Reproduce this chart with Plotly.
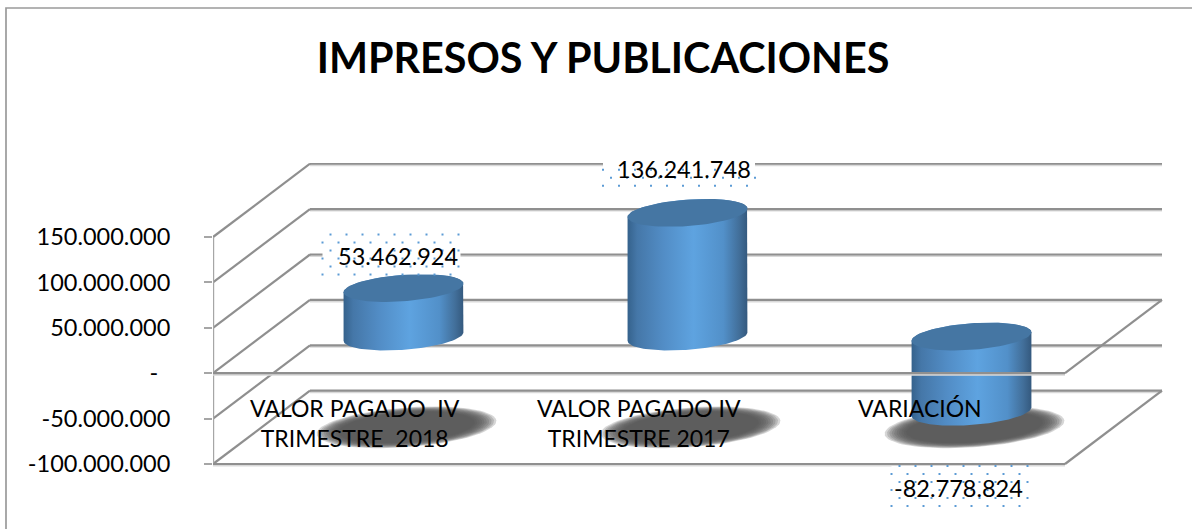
# -*- coding: utf-8 -*-
import numpy as np
import plotly.graph_objects as go

# | data section |
categories = [
    "VALOR PAGADO\u00a0\u00a0IV<br>TRIMESTRE\u00a0\u00a02018",
    "VALOR PAGADO IV<br>TRIMESTRE 2017",
    "VARIACIÓN",
]
values = [53462924, 136241748, -82778824]
tick_values = [150000000, 100000000, 50000000, 0, -50000000, -100000000]
tick_labels = ["150.000.000", "100.000.000", "50.000.000", "-\u00a0\u00a0", "-50.000.000", "-100.000.000"]
title = "IMPRESOS Y PUBLICACIONES"

# | style section |
FONT = "Lato, Carlito, Calibri, sans-serif"
GRID = "#8f8f8f"
GRID_SOFT = "#d9d9d9"
DOT = "#5b9bd5"

# one category is 284 px wide, 50 million is 45.4 px high
PX_X = 1 / 284
PX_Y = 50000000 / 45.4
DEPTH_X = 97 * PX_X
DEPTH_Y = 73.3 * PX_Y
Y_MIN = tick_values[-1]
AXIS_LOW = Y_MIN - 46 * PX_Y  # room under the floor for the last data label
Y_MAX = AXIS_LOW + 347 * PX_Y
X_MAX = 951 * PX_X

# cylinder cross section
RADIUS_X = 57 * PX_X
RADIUS_DEPTH = 0.19

# label box: offset from the end of the cylinder (px), size (px), dot phase, text shift (px)
LABEL_OFFSET = [(-12, -33.5), (-8.5, -43), (-12, 74.3)]
LABEL_BOX = [(138, 40), (152, 32), (136, 40)]
LABEL_PHASE = [1, 0, 1]
TEXT_SHIFT = [(6, -1.5), (4.5, 0.5), (-1, -2)]


def ellipse(xc, yc, theta, scale=1.0):
    x = xc + scale * (RADIUS_X * np.cos(theta) + RADIUS_DEPTH * DEPTH_X * np.sin(theta))
    y = yc + scale * RADIUS_DEPTH * DEPTH_Y * np.sin(theta)
    return x, y


def add_line(fig, x, y, color=GRID, width=2.2):
    fig.add_trace(
        go.Scatter(
            x=x,
            y=y,
            mode="lines",
            line={"color": color, "width": width},
            hoverinfo="skip",
            showlegend=False,
        )
    )


def add_wall_lines(fig, x, y):
    # soft shadow a little below the line, then the line
    add_line(fig, x, [v - 1.5 * PX_Y for v in y], GRID_SOFT, 2)
    add_line(fig, x, y)


fig = go.Figure()

# --- walls and planes
for v in tick_values:
    add_wall_lines(fig, [DEPTH_X, DEPTH_X + 3], [v + DEPTH_Y, v + DEPTH_Y])
    add_line(fig, [0, DEPTH_X], [v, v + DEPTH_Y])
add_line(fig, [0, 0], [tick_values[0], tick_values[-1]], "#a6a6a6", 2.4)
add_wall_lines(fig, [0, 3], [Y_MIN, Y_MIN])
add_line(fig, [3, 3 + DEPTH_X], [Y_MIN, Y_MIN + DEPTH_Y])

# --- floor shadows
theta = np.linspace(0, 2 * np.pi, 90)
for i, v in enumerate(values):
    xc = i + 0.5 + DEPTH_X / 2 + 3 * PX_X
    yc = Y_MIN + DEPTH_Y / 2
    for scale in np.arange(1.5, 1.14, -0.04):
        x, y = ellipse(xc, yc, theta, scale)
        fig.add_trace(
            go.Scatter(
                x=x,
                y=y,
                mode="lines",
                fill="toself",
                fillcolor="rgba(85,85,85,0.24)",
                line={"width": 0},
                hoverinfo="skip",
                showlegend=False,
            )
        )

# --- cylinders
right = np.arctan2(RADIUS_DEPTH * DEPTH_X, RADIUS_X)
front = np.linspace(right + np.pi, right + 2 * np.pi, 60)
back = np.linspace(right, right + np.pi, 60)
for i, v in enumerate(values):
    xc = i + 0.5 + DEPTH_X / 2
    low = min(v, 0) + DEPTH_Y / 2
    high = max(v, 0) + DEPTH_Y / 2
    x_low, y_low = ellipse(xc, low, front)
    x_high, y_high = ellipse(xc, high, back)
    fig.add_trace(
        go.Scatter(
            x=np.concatenate([x_low, x_high]),
            y=np.concatenate([y_low, y_high]),
            mode="lines",
            fill="toself",
            fillgradient={
                "type": "horizontal",
                "colorscale": [
                    [0, "#35628c"],
                    [0.08, "#4577a8"],
                    [0.3, "#528dc6"],
                    [0.55, "#5ea3e0"],
                    [0.8, "#5290c9"],
                    [0.93, "#426f9a"],
                    [1, "#34597e"],
                ],
            },
            line={"width": 0},
            hoverinfo="skip",
            showlegend=False,
        )
    )
    x_top, y_top = ellipse(xc, high, theta)
    fig.add_trace(
        go.Scatter(
            x=x_top,
            y=y_top,
            mode="lines",
            fill="toself",
            fillcolor="#4576a3",
            line={"width": 0},
            hoverinfo="skip",
            showlegend=False,
        )
    )

# --- zero plane front edge goes over the third cylinder
add_wall_lines(fig, [0, 3], [0, 0])
add_line(fig, [3, 3 + DEPTH_X], [0, DEPTH_Y])

# --- data labels in dotted boxes
annotations = []
for i, v in enumerate(values):
    xc = i + 0.5 + DEPTH_X / 2 + LABEL_OFFSET[i][0] * PX_X
    yc = v + DEPTH_Y / 2 - LABEL_OFFSET[i][1] * PX_Y
    w, h = LABEL_BOX[i]
    half_w = w / 2 * PX_X
    half_h = h / 2 * PX_Y
    fig.add_trace(
        go.Scatter(
            x=[xc - half_w, xc + half_w, xc + half_w, xc - half_w, xc - half_w],
            y=[yc - half_h, yc - half_h, yc + half_h, yc + half_h, yc - half_h],
            mode="lines",
            fill="toself",
            fillcolor="white",
            line={"width": 0},
            hoverinfo="skip",
            showlegend=False,
        )
    )
    dots_x, dots_y = [], []
    for row in range(int(h / 8) + 1):
        for col in range(int(w / 8) + 1):
            if (row + col) % 2 == LABEL_PHASE[i]:
                dots_x.append(xc - half_w + col * 8 * PX_X)
                dots_y.append(yc + half_h - row * 8 * PX_Y)
    fig.add_trace(
        go.Scatter(
            x=dots_x,
            y=dots_y,
            mode="markers",
            marker={"symbol": "square", "size": 2, "color": DOT},
            hoverinfo="skip",
            showlegend=False,
            cliponaxis=False,
        )
    )
    annotations.append(
        dict(
            x=xc + TEXT_SHIFT[i][0] * PX_X,
            y=yc + TEXT_SHIFT[i][1] * PX_Y,
            xref="x",
            yref="y",
            text=f"{v:,.0f}".replace(",", "."),
            showarrow=False,
            font={"family": FONT, "size": 23.5, "color": "black"},
        )
    )

# --- category labels sit on the floor
for i, label in enumerate(categories):
    annotations.append(
        dict(
            x=i + 0.5,
            y=Y_MIN + 72 * PX_Y,
            xref="x",
            yref="y",
            xshift=-3 if i == 2 else 0,
            yanchor="top",
            text=label,
            showarrow=False,
            font={"family": FONT, "size": 23, "color": "black"},
        )
    )

# --- chart border, it runs off the page on the right and at the bottom
border = dict(
    type="rect",
    xref="paper",
    yref="paper",
    x0=(6 - 213) / 951,
    x1=1.1,
    y0=-0.3,
    y1=(510 - 8) / 347,
    line={"color": "#9a9a9a", "width": 1.7},
    layer="below",
)

fig.update_layout(
    width=1192,
    height=529,
    margin={"l": 213, "r": 28, "t": 163, "b": 19},
    paper_bgcolor="white",
    plot_bgcolor="white",
    showlegend=False,
    title={
        "text": title,
        "x": 603 / 1192,
        "xanchor": "center",
        "y": 1 - 59 / 529,
        "yanchor": "middle",
        "font": {"family": FONT, "size": 41.3, "color": "black", "weight": "bold"},
    },
    xaxis={"range": [0, X_MAX], "visible": False, "fixedrange": True},
    yaxis={
        "range": [AXIS_LOW, Y_MAX],
        "tickmode": "array",
        "tickvals": tick_values,
        "ticktext": tick_labels,
        "ticks": "outside",
        "ticklen": 8,
        "tickwidth": 1.5,
        "tickcolor": "#a6a6a6",
        "ticklabelstandoff": 29,
        "tickfont": {"family": FONT, "size": 23.5, "color": "black"},
        "showgrid": False,
        "zeroline": False,
        "showline": False,
        "fixedrange": True,
    },
    annotations=annotations,
    shapes=[border],
)

fig.write_html(
    "out.html",
    config={"displayModeBar": False},
    post_script="document.body.style.margin='0';",
)
